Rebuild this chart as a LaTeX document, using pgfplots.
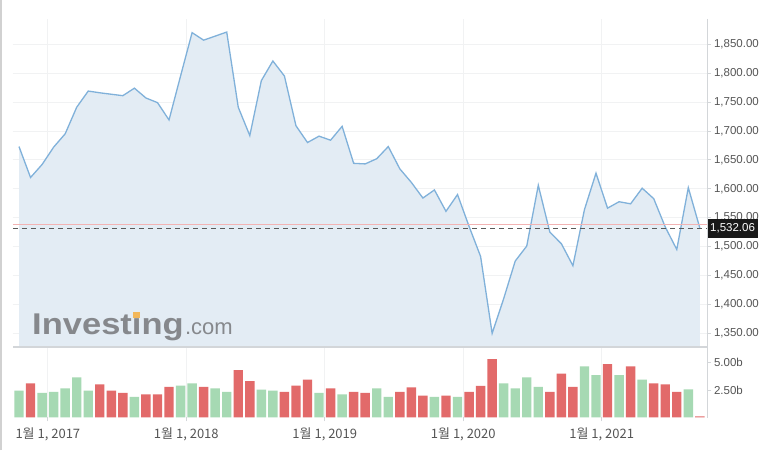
\documentclass[border=0pt]{standalone}
\usepackage{pgfplots}
\pgfplotsset{compat=1.18}
\usepackage{fontspec}
\setmainfont{Liberation Sans}
\newfontfamily\krfont{Noto Sans CJK KR}
\definecolor{fillc}{HTML}{E3ECF4}
\definecolor{linec}{HTML}{80B1DA}
\definecolor{gbar}{HTML}{A6D9B3}
\definecolor{rbar}{HTML}{E26A6A}
\definecolor{gridc}{HTML}{F1F2F3}
\definecolor{axc}{HTML}{D3D6D9}
\definecolor{labc}{HTML}{555555}
\definecolor{logog}{HTML}{7C7E81}
\definecolor{logoo}{HTML}{F4B24A}
\definecolor{prevc}{HTML}{F2B3B3}
\begin{document}
\begin{tikzpicture}[x=1pt,y=1pt]
\useasboundingbox (0,0) rectangle (773,450);
\fill[white] (0,0) rectangle (773,450);
\draw[line width=1.5pt, color=black!18] (0.75,0) -- (0.75,450);
% ---------------- price panel
\begin{axis}[at={(13pt,103pt)}, anchor=south west, scale only axis,
  width=694pt, height=328pt,
  xmin=-0.52, xmax=59.62, ymin=1326.4, ymax=1893.6,
  axis line style={draw=none},
  clip mode=individual,
  xtick={2.5,14.5,26.5,38.5,50.5}, xticklabels={}, x tick style={draw=none},
  ytick={1350,1400,1450,1500,1550,1600,1650,1700,1750,1800,1850},
  ytick pos=right, yticklabel pos=right,
  tick align=outside, major tick length=4pt,
  y tick style={color=axc, line width=0.8pt},
  xmajorgrids, ymajorgrids, grid style={color=gridc, line width=0.8pt},
  yticklabel style={font=\fontsize{11.5}{12}\selectfont, color=labc, xshift=-0.5pt},
  /pgf/number format/.cd, fixed, fixed zerofill, precision=2, 1000 sep={,}, assume math mode=true,
]
\addplot[fill=fillc, draw=none] coordinates {
(0,1673) (1,1619.5) (2,1642) (3,1672) (4,1695) (5,1741) (6,1769) (7,1766) (8,1763.5) (9,1761)
(10,1774) (11,1757) (12,1749) (13,1719) (14,1795) (15,1870) (16,1857) (17,1864) (18,1871) (19,1741)
(20,1692) (21,1787) (22,1821) (23,1795) (24,1709) (25,1680) (26,1691) (27,1684) (28,1708) (29,1644)
(30,1643) (31,1652) (32,1673) (33,1634.5) (34,1611) (35,1584) (36,1598) (37,1561) (38,1590) (39,1535)
(40,1483) (41,1350) (42,1410) (43,1475) (44,1501) (45,1606) (46,1525) (47,1505) (48,1467) (49,1564)
(50,1627) (51,1566.5) (52,1577.6) (53,1574) (54,1601) (55,1583) (56,1534) (57,1495) (58,1602) (59,1532.06)
} \closedcycle;
\addplot[color=linec, line width=1.3pt] coordinates {
(0,1673) (1,1619.5) (2,1642) (3,1672) (4,1695) (5,1741) (6,1769) (7,1766) (8,1763.5) (9,1761)
(10,1774) (11,1757) (12,1749) (13,1719) (14,1795) (15,1870) (16,1857) (17,1864) (18,1871) (19,1741)
(20,1692) (21,1787) (22,1821) (23,1795) (24,1709) (25,1680) (26,1691) (27,1684) (28,1708) (29,1644)
(30,1643) (31,1652) (32,1673) (33,1634.5) (34,1611) (35,1584) (36,1598) (37,1561) (38,1590) (39,1535)
(40,1483) (41,1350) (42,1410) (43,1475) (44,1501) (45,1606) (46,1525) (47,1505) (48,1467) (49,1564)
(50,1627) (51,1566.5) (52,1577.6) (53,1574) (54,1601) (55,1583) (56,1534) (57,1495) (58,1602) (59,1532.06)
};
\addplot[color=prevc, line width=1pt] coordinates {(-0.52,1539) (59.62,1539)};
\addplot[color=black!65, line width=1.1pt, dash pattern=on 5pt off 4pt] coordinates {(-0.52,1532.06) (59.62,1532.06)};
\node[fill=black!90, text=white, anchor=west, inner xsep=3pt, inner ysep=0pt, minimum height=19pt,
  font=\fontsize{11.5}{12}\selectfont] at (axis cs:59.62,1532.06) {1,532.06};
\end{axis}
% ---------------- volume panel
\begin{axis}[at={(13pt,32.7pt)}, anchor=south west, scale only axis,
  width=694pt, height=70.3pt,
  xmin=-0.52, xmax=59.62, ymin=0, ymax=6.44,
  axis line style={draw=none},
  xtick={2.5,14.5,26.5,38.5,50.5},
  xticklabels={{1월 1, 2017}, {1월 1, 2018}, {1월 1, 2019}, {1월 1, 2020}, {1월 1, 2021}},
  xtick pos=bottom, ytick pos=right, yticklabel pos=right,
  ytick={2.5,5}, yticklabels={2.50b,5.00b},
  tick align=outside, major tick length=4pt,
  tick style={color=axc, line width=0.8pt},
  xmajorgrids, grid style={color=gridc, line width=0.8pt},
  yticklabel style={font=\fontsize{11.5}{12}\selectfont, color=labc, xshift=-0.5pt},
  xticklabel style={font=\krfont\fontsize{13}{14}\selectfont, color=labc, yshift=-3pt},
]
\addplot[ybar, bar shift=0pt, bar width=9.4pt, fill=gbar, draw=none] coordinates {
(0,2.44) (2,2.23) (3,2.32) (4,2.65) (5,3.66) (6,2.44) (10,1.86) (14,2.90) (15,3.11) (17,2.65)
(18,2.32) (21,2.53) (22,2.44) (26,2.23) (28,2.10) (31,2.65) (32,1.86) (36,1.86) (38,1.86) (42,3.11)
(43,2.65) (44,3.66) (45,2.78) (49,4.67) (50,3.87) (52,3.87) (54,3.45) (58,2.56)
};
\addplot[ybar, bar shift=0pt, bar width=9.4pt, fill=rbar, draw=none] coordinates {
(1,3.11) (7,3.02) (8,2.44) (9,2.23) (11,2.10) (12,2.10) (13,2.78) (16,2.78) (19,4.33) (20,3.32)
(23,2.32) (24,2.90) (25,3.45) (27,2.65) (29,2.32) (30,2.23) (33,2.32) (34,2.74) (35,1.98) (37,1.98)
(39,2.32) (40,2.87) (41,5.34) (46,2.32) (47,4.00) (48,2.78) (51,4.88) (53,4.67) (55,3.11) (56,3.02)
(57,2.32) (59,0.08)
};
\end{axis}
% frame lines
\draw[color=axc, line width=1.1pt] (13,103) -- (707,103);
\draw[color=axc, line width=0.8pt] (707,431) -- (707,32);
% logo
\node[anchor=base west, inner sep=0pt, text=logog, font=\bfseries\fontsize{30}{30}\selectfont, xscale=1.15, opacity=0.9]
  (inv) at (32,115.7) {Invest\rlap{\kern0.045em\raisebox{0.56em}{\textcolor{logoo}{\rule{0.2em}{0.2em}}}}\char"0131 ng};
\node[anchor=base west, inner sep=0pt, text=logog, font=\fontsize{22}{22}\selectfont, opacity=0.9]
  at ([xshift=1pt]inv.base east) {.com};
\end{tikzpicture}
\end{document}
